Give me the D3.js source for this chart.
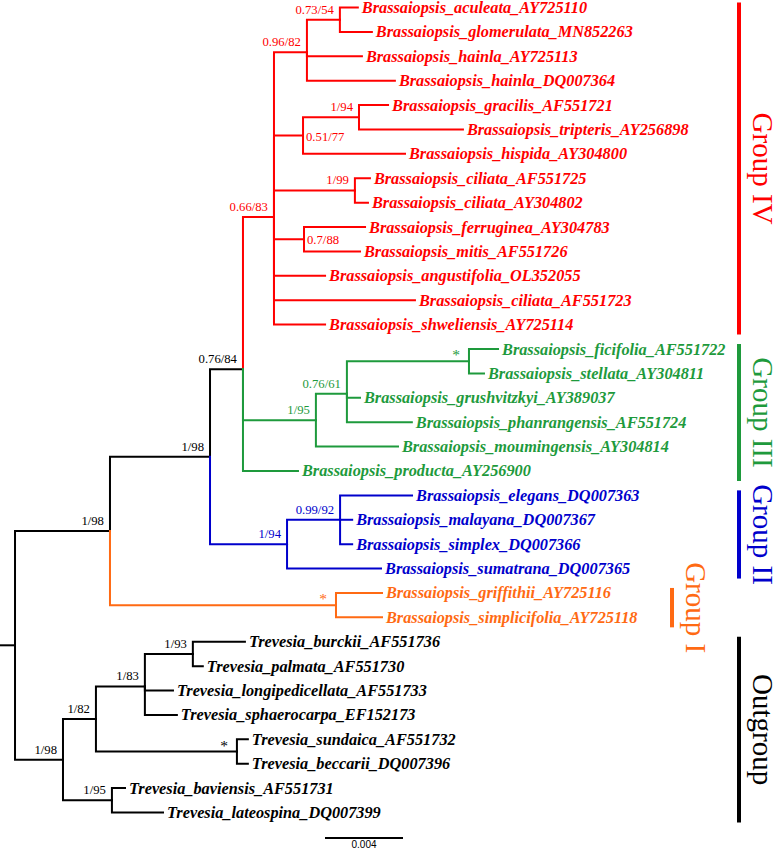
<!DOCTYPE html>
<html><head><meta charset="utf-8">
<script src="https://cdn.jsdelivr.net/npm/d3@7"></script>
<style>body{margin:0;background:#fff}</style>
</head><body>
<svg id="chart" width="774" height="851"></svg>
<script>
// ---- DATA ----
const taxa = [
 "Brassaiopsis_aculeata_AY725110","Brassaiopsis_glomerulata_MN852263","Brassaiopsis_hainla_AY725113",
 "Brassaiopsis_hainla_DQ007364","Brassaiopsis_gracilis_AF551721","Brassaiopsis_tripteris_AY256898",
 "Brassaiopsis_hispida_AY304800","Brassaiopsis_ciliata_AF551725","Brassaiopsis_ciliata_AY304802",
 "Brassaiopsis_ferruginea_AY304783","Brassaiopsis_mitis_AF551726","Brassaiopsis_angustifolia_OL352055",
 "Brassaiopsis_ciliata_AF551723","Brassaiopsis_shweliensis_AY725114","Brassaiopsis_ficifolia_AF551722",
 "Brassaiopsis_stellata_AY304811","Brassaiopsis_grushvitzkyi_AY389037","Brassaiopsis_phanrangensis_AF551724",
 "Brassaiopsis_moumingensis_AY304814","Brassaiopsis_producta_AY256900","Brassaiopsis_elegans_DQ007363",
 "Brassaiopsis_malayana_DQ007367","Brassaiopsis_simplex_DQ007366","Brassaiopsis_sumatrana_DQ007365",
 "Brassaiopsis_griffithii_AY725116","Brassaiopsis_simplicifolia_AY725118","Trevesia_burckii_AF551736",
 "Trevesia_palmata_AF551730","Trevesia_longipedicellata_AF551733","Trevesia_sphaerocarpa_EF152173",
 "Trevesia_sundaica_AF551732","Trevesia_beccarii_DQ007396","Trevesia_baviensis_AF551731",
 "Trevesia_lateospina_DQ007399"
];
const tipGroup = [
 "IV","IV","IV","IV","IV","IV","IV","IV","IV","IV","IV","IV","IV","IV",
 "III","III","III","III","III","III",
 "II","II","II","II",
 "I","I",
 "Out","Out","Out","Out","Out","Out","Out","Out"
];
// [node, parent, branch length (subst./site), support]
const edges = [
 ["root","",0.00077,""],
 ["n_in","root",0.00487,"1/98"],
 ["n_234","n_in",0.00513,"1/98"],
 ["n_34","n_234",0.00169,"0.76/84"],
 ["n_IV","n_34",0.00159,"0.66/83"],
 ["n_a","n_IV",0.00169,"0.96/82"],
 ["n_b","n_a",0.00169,"0.73/54"],
 [taxa[0],"n_b",0.00092,""],
 [taxa[1],"n_b",0.00164,""],
 [taxa[2],"n_a",0.00282,""],
 [taxa[3],"n_a",0.00451,""],
 ["n_c","n_IV",0.00149,"0.51/77"],
 ["n_d","n_c",0.00287,"1/94"],
 [taxa[4],"n_d",0.00149,""],
 [taxa[5],"n_d",0.00533,""],
 [taxa[6],"n_c",0.00523,""],
 ["n_e","n_IV",0.00415,"1/99"],
 [taxa[7],"n_e",0.00077,""],
 [taxa[8],"n_e",0.00067,""],
 ["n_f","n_IV",0.00154,"0.7/88"],
 [taxa[9],"n_f",0.00313,""],
 [taxa[10],"n_f",0.00287,""],
 [taxa[11],"n_IV",0.00262,""],
 [taxa[12],"n_IV",0.00723,""],
 [taxa[13],"n_IV",0.00262,""],
 ["n_g","n_34",0.00374,"1/95"],
 ["n_h","n_g",0.00159,"0.76/61"],
 ["n_i","n_h",0.00626,"*"],
 [taxa[14],"n_i",0.00149,""],
 [taxa[15],"n_i",0.00077,""],
 [taxa[16],"n_h",0.00067,""],
 [taxa[17],"n_h",0.00333,""],
 [taxa[18],"n_g",0.00421,""],
 [taxa[19],"n_34",0.00282,""],
 ["n_II","n_234",0.00395,"1/94"],
 ["n_j","n_II",0.00272,"0.99/92"],
 [taxa[20],"n_j",0.00369,""],
 [taxa[21],"n_j",0.00062,""],
 [taxa[22],"n_j",0.00062,""],
 [taxa[23],"n_II",0.00482,""],
 ["n_I","n_in",0.01159,"*"],
 [taxa[24],"n_I",0.00236,""],
 [taxa[25],"n_I",0.00236,""],
 ["n_out","root",0.00246,"1/98"],
 ["n_k","n_out",0.00169,"1/82"],
 ["n_l","n_k",0.00251,"1/83"],
 ["n_m","n_l",0.00246,"1/93"],
 [taxa[26],"n_m",0.00267,""],
 [taxa[27],"n_m",0.00051,""],
 [taxa[28],"n_l",0.00144,""],
 [taxa[29],"n_l",0.00164,""],
 ["n_n","n_k",0.00723,"*"],
 [taxa[30],"n_n",0.00056,""],
 [taxa[31],"n_n",0.00056,""],
 ["n_o","n_out",0.00251,"1/95"],
 [taxa[32],"n_o",0.00067,""],
 [taxa[33],"n_o",0.00262,""]
];
const groupKeys = ["IV","III","II","I","Out"];
const groupLabels = ["Group IV","Group III","Group II","Group I","Outgroup"];
const scaleBarValue = 0.004;
const scaleBarLabel = "0.004";

// ---- STYLE ----
const colors = {IV:"#ff0000", III:"#1e9a3c", II:"#0000cc", I:"#ff6a13", Out:"#000000"};
const serif = "'Liberation Serif','Times New Roman',serif";

const svg = d3.select("#chart");
const root = d3.stratify().id(d => d[0]).parentId(d => d[1] || null)(edges);

const x = d3.scaleLinear().domain([0, scaleBarValue]).range([0, 78]);
const y = d3.scaleLinear().domain([0, taxa.length - 1]).range([7.5, 812.5]);

root.each(n => { n.len = (n.parent ? n.parent.len : 0) + n.data[2]; n.px = x(n.len); });
const leaves = root.leaves();
leaves.forEach(l => { const i = taxa.indexOf(l.id); l.py = y(i); l.grp = tipGroup[i]; });
root.eachAfter(n => {
  if (n.children) {
    n.py = d3.mean(n.children, c => c.py);
    const gs = new Set(n.leaves().map(l => l.grp));
    n.grp = gs.size === 1 ? [...gs][0] : "Out";
  }
});

const g = svg.append("g");
g.append("path").attr("d", `M${x(0)},${root.py}H${root.px}`)
  .attr("stroke", "#000").attr("stroke-width", 2).attr("fill", "none");
g.selectAll("path.link").data(root.descendants().filter(n => n.parent)).join("path")
  .attr("class", "link")
  .attr("d", n => `M${n.parent.px},${n.parent.py}V${n.py}H${n.px}`)
  .attr("stroke", n => colors[n.grp]).attr("stroke-width", 2)
  .attr("fill", "none").attr("stroke-linecap", "square");

g.selectAll("text.tip").data(leaves).join("text")
  .attr("class", "tip")
  .attr("x", n => n.px + 4).attr("y", n => n.py + 5.5)
  .attr("font-family", serif).attr("font-weight", "bold").attr("font-style", "italic")
  .attr("font-size", 16.3).attr("fill", n => colors[n.grp])
  .text(n => n.id);

const rightPlaced = new Set(["n_c","n_f"]);
const isStar = n => n.data[3] === "*";
g.selectAll("text.sup").data(root.descendants().filter(n => n.children && n.data[3])).join("text")
  .attr("class", "sup")
  .attr("x", n => rightPlaced.has(n.id) ? n.px + 3 : (isStar(n) ? n.px - 9 : n.px - 6))
  .attr("y", n => rightPlaced.has(n.id) ? n.py + 5 : (isStar(n) ? n.py - 1 : n.py - 6))
  .attr("text-anchor", n => rightPlaced.has(n.id) ? "start" : "end")
  .attr("font-family", serif).attr("font-size", n => isStar(n) ? 15.5 : 12.7)
  .attr("fill", n => colors[n.grp])
  .text(n => n.data[3]);

groupKeys.forEach((k, i) => {
  const idx = tipGroup.map((t, j) => t === k ? j : -1).filter(j => j >= 0);
  const y0 = y(d3.min(idx)) - 5, y1 = y(d3.max(idx)) + 10;
  const bx = k === "I" ? 672 : 739;
  svg.append("line").attr("x1", bx).attr("x2", bx).attr("y1", y0).attr("y2", y1)
    .attr("stroke", colors[k]).attr("stroke-width", 4);
  svg.append("text")
    .attr("transform", `translate(${bx + 14},${(y0 + y1) / 2}) rotate(90)`)
    .attr("text-anchor", "middle")
    .attr("font-family", serif).attr("font-size", 29)
    .attr("fill", colors[k]).text(groupLabels[i]);
});

const sbx = 325, sby = 838;
svg.append("line").attr("x1", sbx).attr("x2", sbx + x(scaleBarValue) - x(0))
  .attr("y1", sby).attr("y2", sby).attr("stroke", "#000").attr("stroke-width", 2);
svg.append("text").attr("x", sbx + (x(scaleBarValue) - x(0)) / 2).attr("y", sby + 10)
  .attr("text-anchor", "middle").attr("font-family", "'Liberation Sans',Arial,sans-serif")
  .attr("font-size", 10).attr("fill", "#000").text(scaleBarLabel);
</script>
</body></html>
